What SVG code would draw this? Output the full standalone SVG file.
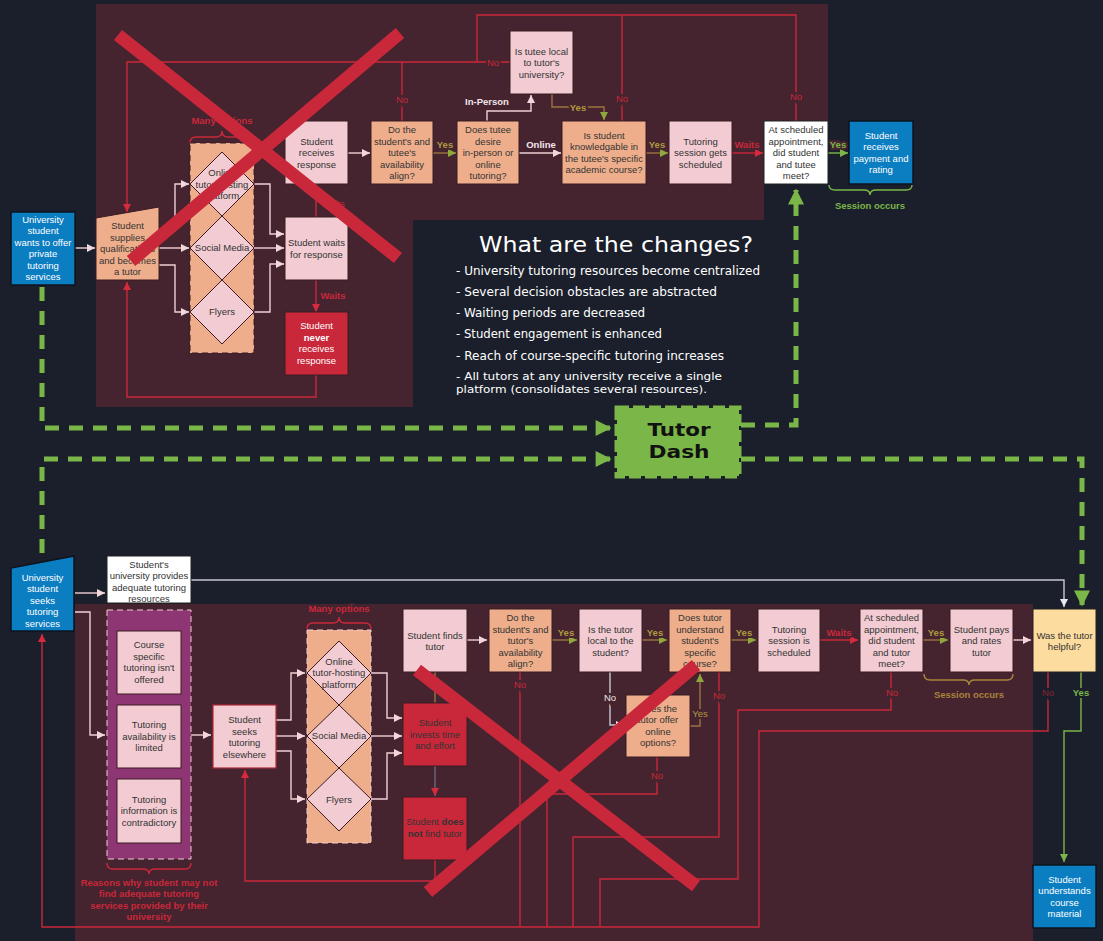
<svg xmlns="http://www.w3.org/2000/svg" width="1103" height="941" viewBox="0 0 1103 941">
<style>
.t{font-family:"Liberation Sans",Arial,sans-serif;font-size:9.5px;fill:#333;text-anchor:middle;dominant-baseline:central}
.w{fill:#fff}
.b{font-weight:bold}
.lb{font-family:"Liberation Sans",Arial,sans-serif;font-size:9.5px;text-anchor:middle;dominant-baseline:central;paint-order:stroke;stroke:#45232f;stroke-width:4px}
.dk{stroke:#1b1f2b}
.red{fill:#c9283a}
.oli{fill:#b09a40}
.grn{fill:#7ab648}
.wht{fill:#f2e6ea}
.box{stroke:#3a1c22;stroke-width:1}
.pk{fill:#f2ccd2}
.sa{fill:#efae8b}
.rd{fill:#c8283a}
.bl{fill:#0b7dc1;stroke:#0d1520;stroke-width:1.5}
.c{fill:none;stroke-width:1.4}
.cp{stroke:#efd0d6}
.cr{stroke:#c9283a}
.co{stroke:#9a7440}
.cg{stroke:#7ab648}
.cgy{stroke:#c8c8d0}
.dash{fill:none;stroke:#7ab648;stroke-width:5;stroke-dasharray:14 10}
.x{stroke:#c9283a;stroke-width:13;fill:none}
.ttl{font-family:"DejaVu Sans",sans-serif;fill:#fff}
</style>
<defs>
<marker id="aw" viewBox="0 0 10 10" refX="10" refY="5" markerWidth="11" markerHeight="8" markerUnits="userSpaceOnUse" orient="auto"><path d="M0,0L10,5L0,10z" fill="#f2d6dc"/></marker>
<marker id="ar" viewBox="0 0 10 10" refX="10" refY="5" markerWidth="11" markerHeight="8" markerUnits="userSpaceOnUse" orient="auto"><path d="M0,0L10,5L0,10z" fill="#d62a3e"/></marker>
<marker id="ao" viewBox="0 0 10 10" refX="10" refY="5" markerWidth="11" markerHeight="8" markerUnits="userSpaceOnUse" orient="auto"><path d="M0,0L10,5L0,10z" fill="#8fa83c"/></marker>
<marker id="ag" viewBox="0 0 10 10" refX="10" refY="5" markerWidth="11" markerHeight="8" markerUnits="userSpaceOnUse" orient="auto"><path d="M0,0L10,5L0,10z" fill="#7ab648"/></marker>
<marker id="agy" viewBox="0 0 10 10" refX="10" refY="5" markerWidth="11" markerHeight="8" markerUnits="userSpaceOnUse" orient="auto"><path d="M0,0L10,5L0,10z" fill="#e8e8ee"/></marker>
<marker id="aG" viewBox="0 0 10 10" refX="9" refY="5" markerWidth="18" markerHeight="16" markerUnits="userSpaceOnUse" orient="auto"><path d="M0,0L10,5L0,10z" fill="#7ab648"/></marker>
</defs>

<rect width="1103" height="941" fill="#1b1f2b"/>
<path d="M96,4H828V121H764V220H413V407H96Z" fill="#45232f"/>
<rect x="75" y="604" width="958" height="337" fill="#45232f"/>

<g id="connectors">
<path class="dash" d="M42,287V428H610" marker-end="url(#aG)"/>
<path class="dash" d="M42,553V459H610" marker-end="url(#aG)"/>
<path class="dash" d="M741,425H796V190" marker-end="url(#aG)"/>
<path class="dash" d="M741,459H1082V605" marker-end="url(#aG)"/>

<path class="c cp" d="M75,248H95" marker-end="url(#aw)"/>
<path class="c cp" d="M159,230H175V184H189" marker-end="url(#aw)"/>
<path class="c cp" d="M159,248H189" marker-end="url(#aw)"/>
<path class="c cp" d="M159,265H175V312H189" marker-end="url(#aw)"/>
<path class="c cp" d="M254,184H270V234H284" marker-end="url(#aw)"/>
<path class="c cp" d="M254,248H284" marker-end="url(#aw)"/>
<path class="c cp" d="M254,312H270V264H284" marker-end="url(#aw)"/>
<path class="c cr" d="M316,217V184"/>
<path class="c cr" d="M316,280V312" marker-end="url(#ar)"/>
<path class="c cr" d="M316,375V397H127V282" marker-end="url(#ar)"/>
<path class="c cr" d="M510,62H127V212" marker-end="url(#ar)"/>
<path class="c cr" d="M402,121V62"/>
<path class="c cr" d="M477,62V15H796V121"/>
<path class="c cr" d="M622,121V15"/>
<path class="c cp" d="M348,153H370" marker-end="url(#aw)"/>
<path class="c co" d="M433,153H456" marker-end="url(#ao)"/>
<path class="c cp" d="M487,121V111H531V95" marker-end="url(#aw)"/>
<path class="c co" d="M552,94V107H604V120" marker-end="url(#ao)"/>
<path class="c cp" d="M519,153H561" marker-end="url(#aw)"/>
<path class="c co" d="M646,153H668" marker-end="url(#ao)"/>
<path class="c cr" d="M732,153H763" marker-end="url(#ar)"/>
<path class="c cg" d="M828,153H848" marker-end="url(#ag)"/>

<path class="c cp" d="M75,593H105" marker-end="url(#aw)"/>
<path class="c cp" d="M75,612H90V735H105" marker-end="url(#aw)"/>
<path class="c cgy" d="M191,580H1064V607" marker-end="url(#agy)"/>
<path class="c cp" d="M191,735H211" marker-end="url(#aw)"/>
<path class="c cp" d="M276,720H291V673H305" marker-end="url(#aw)"/>
<path class="c cp" d="M276,736H305" marker-end="url(#aw)"/>
<path class="c cp" d="M276,751H291V799H305" marker-end="url(#aw)"/>
<path class="c cp" d="M371,673H387V718H402" marker-end="url(#aw)"/>
<path class="c cp" d="M371,736H402" marker-end="url(#aw)"/>
<path class="c cp" d="M371,799H387V753H402" marker-end="url(#aw)"/>
<path class="c co" d="M435,703V672"/>
<path class="c" stroke="#6e6a78" d="M435,766V796" marker-end="url(#ar)"/>
<path class="c cr" d="M435,860V881H245V770" marker-end="url(#ar)"/>
<path class="c cp" d="M467,640H487" marker-end="url(#aw)"/>
<path class="c co" d="M552,640H577" marker-end="url(#ao)"/>
<path class="c co" d="M642,640H667" marker-end="url(#ao)"/>
<path class="c co" d="M731,640H756" marker-end="url(#ao)"/>
<path class="c cr" d="M820,640H858" marker-end="url(#ar)"/>
<path class="c co" d="M923,640H948" marker-end="url(#ao)"/>
<path class="c cp" d="M1013,640H1031" marker-end="url(#aw)"/>
<path class="c cr" d="M520,672V927"/>
<path class="c cgy" d="M610,672V725H624" marker-end="url(#agy)"/>
<path class="c co" d="M690,726H700V674" marker-end="url(#ao)"/>
<path class="c cr" d="M657,757V794H547V927"/>
<path class="c cr" d="M719,672V837H573V927"/>
<path class="c cr" d="M891,672V710H738V879H600V927"/>
<path class="c cr" d="M1048,672V731H759V927H42V634" marker-end="url(#ar)"/>
<path class="c cg" d="M1081,672V731H1064V862" marker-end="url(#ag)"/>

<path class="c cr" d="M190,143Q190,137 196,137H216Q222,137 222,131Q222,137 228,137H248Q254,137 254,143"/>
<path class="c cg" d="M829,185Q829,190 835,190H864Q870,190 870,195Q870,190 876,190H906Q912,190 912,185"/>
<path class="c cr" d="M307,629Q307,623 313,623H333Q339,623 339,617Q339,623 345,623H365Q371,623 371,629"/>
<path class="c" stroke="#a8843c" d="M924,674Q924,680 930,680H963Q969,680 969,685Q969,680 975,680H1007Q1013,680 1013,674"/>
<path class="c cr" d="M107,863Q107,869 113,869H143Q149,869 149,874Q149,869 155,869H185Q191,869 191,863"/>

<text class="lb red" x="333" y="203">Waits</text>
<text class="lb red b" x="333" y="295">Waits</text>
<text class="lb red" x="493" y="62">No</text>
<text class="lb red" x="402" y="99">No</text>
<text class="lb red" x="622" y="98">No</text>
<text class="lb red" x="796" y="96">No</text>
<text class="lb oli b" x="445" y="144">Yes</text>
<text class="lb wht b" x="487" y="101">In-Person</text>
<text class="lb oli b" x="578" y="107">Yes</text>
<text class="lb wht b" x="541" y="144">Online</text>
<text class="lb oli b" x="657" y="144">Yes</text>
<text class="lb red b" x="747" y="144">Waits</text>
<text class="lb grn b" x="838" y="144">Yes</text>
<text class="lb grn b dk" x="870" y="205">Session occurs</text>
<text class="lb red b" x="222" y="120">Many options</text>

<text class="lb red b" x="339" y="608">Many options</text>
<text class="lb oli b" x="566" y="632">Yes</text>
<text class="lb oli b" x="655" y="632">Yes</text>
<text class="lb oli b" x="744" y="632">Yes</text>
<text class="lb red b" x="839" y="632">Waits</text>
<text class="lb oli b" x="936" y="632">Yes</text>
<text class="lb red" x="520" y="684">No</text>
<text class="lb wht" x="610" y="697">No</text>
<text class="lb oli" x="700" y="713">Yes</text>
<text class="lb red" x="657" y="775">No</text>
<text class="lb red" x="719" y="695">No</text>
<text class="lb red" x="892" y="692">No</text>
<text class="lb b" fill="#a8843c" x="969" y="694">Session occurs</text>
<text class="lb dk" fill="#8a2434" x="1048" y="692">No</text>
<text class="lb grn b dk" x="1081" y="692">Yes</text>
<text class="lb red b" x="149" y="882">Reasons why student may not</text>
<text class="lb red b" x="149" y="893">find adequate  tutoring</text>
<text class="lb red b" x="149" y="905">services provided by their</text>
<text class="lb red b" x="149" y="916">university</text>
</g>

<g id="n-offer"><rect class="bl" x="11" y="212" width="64" height="73"/>
<text class="t w"><tspan x="43" y="218.5">University</tspan><tspan x="43" y="230">student</tspan><tspan x="43" y="241.5">wants to offer</tspan><tspan x="43" y="253">private</tspan><tspan x="43" y="264.5">tutoring</tspan><tspan x="43" y="276">services</tspan></text></g>

<g id="n-supplies"><polygon class="box sa" points="96,218 159,207 159,280 96,280"/>
<text class="t"><tspan x="127.5" y="225">Student</tspan><tspan x="127.5" y="236.5">supplies</tspan><tspan x="127.5" y="248">qualifications</tspan><tspan x="127.5" y="259.5">and becomes</tspan><tspan x="127.5" y="271">a tutor</tspan></text></g>

<g id="n-options-top"><rect x="190" y="143" width="64" height="210" fill="#efae8b" stroke="#3a1c22" stroke-dasharray="6 4"/>
<polygon class="box pk" points="222,152 254,184 222,216 190,184"/>
<polygon class="box pk" points="222,216 254,248 222,280 190,248"/>
<polygon class="box pk" points="222,280 254,312 222,344 190,312"/>
<text class="t"><tspan x="222" y="172">Online</tspan><tspan x="222" y="183.5">tutor-hosting</tspan><tspan x="222" y="195">platform</tspan></text>
<text class="t" x="222" y="247">Social Media</text>
<text class="t" x="222" y="311">Flyers</text></g>

<g id="n-receives"><rect class="box pk" x="285" y="121" width="63" height="63"/>
<text class="t"><tspan x="316.5" y="140.5">Student</tspan><tspan x="316.5" y="152">receives</tspan><tspan x="316.5" y="163.5">response</tspan></text></g>

<g id="n-waits"><rect class="box pk" x="285" y="217" width="63" height="63"/>
<text class="t"><tspan x="316.5" y="242">Student waits</tspan><tspan x="316.5" y="253.5">for response</tspan></text></g>

<g id="n-never"><rect class="box rd" x="285" y="312" width="63" height="63"/>
<text class="t w"><tspan x="316.5" y="325">Student</tspan><tspan x="316.5" y="336.5" class="b">never</tspan><tspan x="316.5" y="348">receives</tspan><tspan x="316.5" y="359.5">response</tspan></text></g>

<g id="n-avail-top"><rect class="box sa" x="371" y="121" width="62" height="63"/>
<text class="t"><tspan x="402" y="129">Do the</tspan><tspan x="402" y="140.5">student's and</tspan><tspan x="402" y="152">tutee's</tspan><tspan x="402" y="163.5">availability</tspan><tspan x="402" y="175">align?</tspan></text></g>

<g id="n-desire"><rect class="box sa" x="457" y="121" width="62" height="63"/>
<text class="t"><tspan x="488" y="129">Does tutee</tspan><tspan x="488" y="140.5">desire</tspan><tspan x="488" y="152">in-person or</tspan><tspan x="488" y="163.5">online</tspan><tspan x="488" y="175">tutoring?</tspan></text></g>

<g id="n-local-top"><rect class="box pk" x="510" y="31" width="63" height="63"/>
<text class="t"><tspan x="541.5" y="50.5">Is tutee local</tspan><tspan x="541.5" y="62">to tutor's</tspan><tspan x="541.5" y="73.5">university?</tspan></text></g>

<g id="n-knowledge"><rect class="box sa" x="562" y="121" width="84" height="63"/>
<text class="t"><tspan x="604" y="134.5">Is student</tspan><tspan x="604" y="146">knowledgable in</tspan><tspan x="604" y="157.5">the tutee's specific</tspan><tspan x="604" y="169">academic course?</tspan></text></g>

<g id="n-sched-top"><rect class="box pk" x="669" y="121" width="63" height="63"/>
<text class="t"><tspan x="700.5" y="140.5">Tutoring</tspan><tspan x="700.5" y="152">session gets</tspan><tspan x="700.5" y="163.5">scheduled</tspan></text></g>

<g id="n-meet-top"><rect x="764" y="121" width="64" height="63" fill="#fff" stroke="#222" stroke-width="1"/>
<text class="t" fill="#222"><tspan x="796" y="129">At scheduled</tspan><tspan x="796" y="140.5">appointment,</tspan><tspan x="796" y="152">did student</tspan><tspan x="796" y="163.5">and tutee</tspan><tspan x="796" y="175">meet?</tspan></text></g>

<g id="n-payment"><rect class="bl" x="849" y="121" width="64" height="63"/>
<text class="t w"><tspan x="881" y="134.5">Student</tspan><tspan x="881" y="146">receives</tspan><tspan x="881" y="157.5">payment and</tspan><tspan x="881" y="169">rating</tspan></text></g>

<g id="n-changes">
<text class="ttl" x="479" y="252" font-size="22" textLength="274" lengthAdjust="spacingAndGlyphs">What are the changes?</text>
<text class="ttl" font-size="11.5" x="456" y="275" textLength="304" lengthAdjust="spacingAndGlyphs">- University tutoring resources become centralized</text>
<text class="ttl" font-size="11.5" x="456" y="296" textLength="261" lengthAdjust="spacingAndGlyphs">- Several decision obstacles are abstracted</text>
<text class="ttl" font-size="11.5" x="456" y="317" textLength="189" lengthAdjust="spacingAndGlyphs">- Waiting periods are decreased</text>
<text class="ttl" font-size="11.5" x="456" y="338" textLength="206" lengthAdjust="spacingAndGlyphs">- Student engagement is enhanced</text>
<text class="ttl" font-size="11.5" x="456" y="360" textLength="268" lengthAdjust="spacingAndGlyphs">- Reach of course-specific tutoring increases</text>
<text class="ttl" font-size="10.5" x="456" y="379.5" textLength="266" lengthAdjust="spacingAndGlyphs">- All tutors at any university receive a single</text>
<text class="ttl" font-size="10" x="456" y="392.5" textLength="251" lengthAdjust="spacingAndGlyphs">platform (consolidates several resources).</text>
</g>

<g id="n-tutordash">
<rect x="617" y="408" width="122" height="68" fill="#7ab648" stroke="#7ab648" stroke-width="5" stroke-dasharray="12 4"/>
<text x="679" y="435.5" font-family="'DejaVu Sans',sans-serif" font-size="18" font-weight="bold" fill="#111" text-anchor="middle" textLength="63" lengthAdjust="spacingAndGlyphs">Tutor</text>
<text x="679" y="458" font-family="'DejaVu Sans',sans-serif" font-size="18" font-weight="bold" fill="#111" text-anchor="middle" textLength="61" lengthAdjust="spacingAndGlyphs">Dash</text>
</g>

<g id="n-seeks"><polygon class="bl" points="11,568 74,556 74,631 11,631"/>
<text class="t w"><tspan x="42.5" y="576.5">University</tspan><tspan x="42.5" y="588">student</tspan><tspan x="42.5" y="599.5">seeks</tspan><tspan x="42.5" y="611">tutoring</tspan><tspan x="42.5" y="622.5">services</tspan></text></g>

<g id="n-provides"><rect x="107" y="556" width="84" height="47" fill="#fff" stroke="#222"/>
<text class="t" fill="#222"><tspan x="149" y="563.5">Student's</tspan><tspan x="149" y="575">university provides</tspan><tspan x="149" y="586.5">adequate tutoring</tspan><tspan x="149" y="598">resources</tspan></text></g>

<g id="n-reasons"><rect x="107" y="610" width="84" height="249" fill="#8e3573" stroke="#f2ccd2" stroke-dasharray="6 4"/>
<rect class="box pk" x="117" y="631" width="64" height="63"/>
<text class="t"><tspan x="149" y="644">Course</tspan><tspan x="149" y="655.5">specific</tspan><tspan x="149" y="667">tutoring isn't</tspan><tspan x="149" y="678.5">offered</tspan></text>
<rect class="box pk" x="117" y="705" width="64" height="63"/>
<text class="t"><tspan x="149" y="724">Tutoring</tspan><tspan x="149" y="735.5">availability is</tspan><tspan x="149" y="747">limited</tspan></text>
<rect class="box pk" x="117" y="779" width="64" height="64"/>
<text class="t"><tspan x="149" y="798.5">Tutoring</tspan><tspan x="149" y="810">information is</tspan><tspan x="149" y="821.5">contradictory</tspan></text></g>

<g id="n-elsewhere"><rect class="pk" x="213" y="705" width="63" height="63" stroke="#b02a3a" stroke-width="1.2"/>
<text class="t"><tspan x="244.5" y="719">Student</tspan><tspan x="244.5" y="730.5">seeks</tspan><tspan x="244.5" y="742">tutoring</tspan><tspan x="244.5" y="753.5">elsewhere</tspan></text></g>

<g id="n-options-bot"><rect x="307" y="630" width="64" height="213" fill="#efae8b" stroke="#f2ccd2" stroke-dasharray="6 4"/>
<polygon class="box pk" points="339,641 371,673 339,705 307,673"/>
<polygon class="box pk" points="339,705 371,736 339,768 307,736"/>
<polygon class="box pk" points="339,768 371,799 339,831 307,799"/>
<text class="t"><tspan x="339" y="660.5">Online</tspan><tspan x="339" y="672">tutor-hosting</tspan><tspan x="339" y="683.5">platform</tspan></text>
<text class="t" x="339" y="735.5">Social Media</text>
<text class="t" x="339" y="799">Flyers</text></g>

<g id="n-finds"><rect class="box pk" x="403" y="609" width="64" height="63"/>
<text class="t"><tspan x="435" y="634.5">Student finds</tspan><tspan x="435" y="646">tutor</tspan></text></g>

<g id="n-invests"><rect class="box rd" x="403" y="703" width="64" height="63"/>
<text class="t" fill="#f6dde2"><tspan x="435" y="722">Student</tspan><tspan x="435" y="733.5">invests time</tspan><tspan x="435" y="745">and effort</tspan></text></g>

<g id="n-notfind"><rect class="box rd" x="403" y="797" width="64" height="63"/>
<text class="t" fill="#f6dde2"><tspan x="435" y="821">Student <tspan class="b">does</tspan></tspan><tspan x="435" y="832.5"><tspan class="b">not</tspan> find tutor</tspan></text></g>

<g id="n-avail-bot"><rect class="box sa" x="489" y="609" width="63" height="63"/>
<text class="t"><tspan x="520.5" y="617">Do the</tspan><tspan x="520.5" y="628.5">student's and</tspan><tspan x="520.5" y="640">tutor's</tspan><tspan x="520.5" y="651.5">availability</tspan><tspan x="520.5" y="663">align?</tspan></text></g>

<g id="n-local-bot"><rect class="box pk" x="579" y="609" width="63" height="63"/>
<text class="t"><tspan x="610.5" y="628.5">Is the tutor</tspan><tspan x="610.5" y="640">local to the</tspan><tspan x="610.5" y="651.5">student?</tspan></text></g>

<g id="n-understand"><rect class="box sa" x="669" y="609" width="62" height="63"/>
<text class="t"><tspan x="700" y="617">Does tutor</tspan><tspan x="700" y="628.5">understand</tspan><tspan x="700" y="640">student's</tspan><tspan x="700" y="651.5">specific</tspan><tspan x="700" y="663">course?</tspan></text></g>

<g id="n-online"><rect class="box sa" x="626" y="695" width="64" height="62"/>
<text class="t"><tspan x="658" y="707.5">Does the</tspan><tspan x="658" y="719">tutor offer</tspan><tspan x="658" y="730.5">online</tspan><tspan x="658" y="742">options?</tspan></text></g>

<g id="n-sched-bot"><rect class="box pk" x="758" y="609" width="62" height="63"/>
<text class="t"><tspan x="789" y="628.5">Tutoring</tspan><tspan x="789" y="640">session is</tspan><tspan x="789" y="651.5">scheduled</tspan></text></g>

<g id="n-meet-bot"><rect class="box pk" x="860" y="609" width="63" height="63"/>
<text class="t"><tspan x="891.5" y="617">At scheduled</tspan><tspan x="891.5" y="628.5">appointment,</tspan><tspan x="891.5" y="640">did student</tspan><tspan x="891.5" y="651.5">and tutor</tspan><tspan x="891.5" y="663">meet?</tspan></text></g>

<g id="n-pays"><rect class="box pk" x="950" y="609" width="63" height="63"/>
<text class="t"><tspan x="981.5" y="628.5">Student pays</tspan><tspan x="981.5" y="640">and rates</tspan><tspan x="981.5" y="651.5">tutor</tspan></text></g>

<g id="n-helpful"><rect x="1033" y="609" width="63" height="63" fill="#fddca0" stroke="#222"/>
<text class="t"><tspan x="1064.5" y="634.5">Was the tutor</tspan><tspan x="1064.5" y="646">helpful?</tspan></text></g>

<g id="n-understands"><rect class="bl" x="1033" y="865" width="63" height="63"/>
<text class="t w"><tspan x="1064.5" y="878.5">Student</tspan><tspan x="1064.5" y="890">understands</tspan><tspan x="1064.5" y="901.5">course</tspan><tspan x="1064.5" y="913">material</tspan></text></g>

<g id="cross-top"><path class="x" d="M118,35L398,258M400,33L131,261"/></g>
<g id="cross-bottom"><path class="x" d="M417,670L696,886M696,665L428,892"/></g>
</svg>
